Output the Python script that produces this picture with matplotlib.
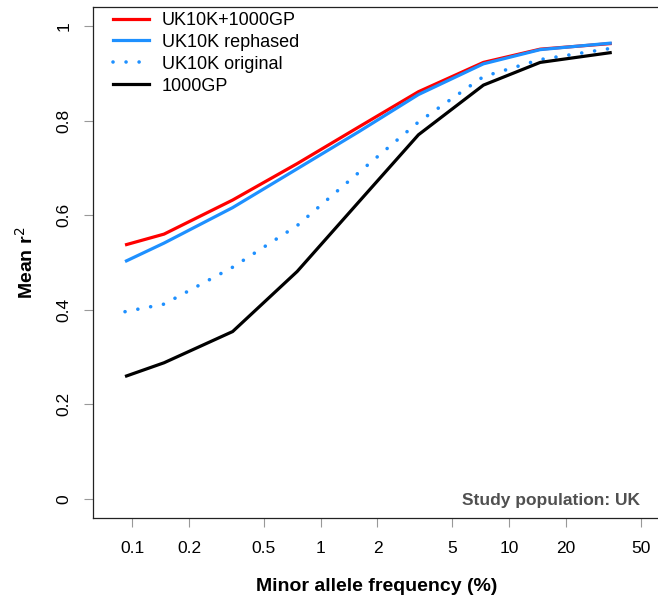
import matplotlib
matplotlib.use("Agg")
import matplotlib.pyplot as plt
from matplotlib.lines import Line2D

plt.rcParams['font.family'] = ['Liberation Sans', 'DejaVu Sans']

# Data
maf = [0.0916, 0.1475, 0.341, 0.75, 1.6, 3.3, 7.3, 14.6, 35]
uk10k_1000gp = [0.537, 0.560, 0.632, 0.709, 0.787, 0.861, 0.923, 0.951, 0.963]
uk10k_rephased = [0.502, 0.541, 0.616, 0.698, 0.777, 0.855, 0.920, 0.950, 0.964]
uk10k_original = [0.396, 0.412, 0.490, 0.578, 0.691, 0.797, 0.893, 0.929, 0.953]
gp1000 = [0.259, 0.288, 0.354, 0.481, 0.629, 0.770, 0.875, 0.923, 0.944]

series_labels = ["UK10K+1000GP", "UK10K rephased", "UK10K original", "1000GP"]
x_ticks = [0.1, 0.2, 0.5, 1, 2, 5, 10, 20, 50]
x_ticklabels = ["0.1", "0.2", "0.5", "1", "2", "5", "10", "20", "50"]
y_ticks = [0, 0.2, 0.4, 0.6, 0.8, 1]
y_ticklabels = ["0", "0.2", "0.4", "0.6", "0.8", "1"]

W, H = 658, 602
fig = plt.figure(figsize=(W / 100, H / 100), dpi=100)
left, right, top, bottom = 92.7, 660.0, 7.3, 518.3
ax = fig.add_axes([left / W, 1 - bottom / H, (right - left) / W, (bottom - top) / H])

red = "#FF0000"
blue = "#1E90FF"
lw = 2.3

ax.plot(maf, uk10k_1000gp, color=red, lw=lw, solid_capstyle='butt', solid_joinstyle='round')
ax.plot(maf, uk10k_rephased, color=blue, lw=lw, solid_capstyle='butt', solid_joinstyle='round')
ax.plot(maf, uk10k_original, color=blue, lw=2.6, linestyle=(0, (0.01, 3.6)),
        dash_capstyle='round')
ax.plot(maf, gp1000, color="black", lw=lw, solid_capstyle='butt', solid_joinstyle='round')

ax.set_xscale('log')
ax.set_xlim(0.06171, 63.1)
ax.set_ylim(-0.0408, 1.0395)
ax.set_xticks(x_ticks)
ax.set_xticklabels(x_ticklabels)
ax.xaxis.set_minor_locator(matplotlib.ticker.NullLocator())
ax.set_yticks(y_ticks)
ax.set_yticklabels(y_ticklabels, rotation=90, va='center')

ax.tick_params(axis='both', direction='out', length=6.5, width=0.8, color='#999999',
               labelsize=12.5, labelcolor='black')
ax.tick_params(axis='x', pad=10)
ax.tick_params(axis='y', pad=9)
for s in ax.spines.values():
    s.set_color('#222222')
    s.set_linewidth(0.9)

ax.set_xlabel("Minor allele frequency (%)", fontsize=14, fontweight='bold', labelpad=16)
ax.set_ylabel("Mean r$^2$", fontsize=14, fontweight='bold', labelpad=14)

ax.text(0.965, 0.035, "Study population: UK", transform=ax.transAxes, ha='right', va='center',
        fontsize=12.5, fontweight='bold', color='#505050')

handles = [
    Line2D([], [], color=red, lw=lw),
    Line2D([], [], color=blue, lw=lw),
    Line2D([], [], color=blue, lw=2.6, linestyle=(0, (0.01, 3.6)), dash_capstyle='round'),
    Line2D([], [], color="black", lw=lw),
]
leg = ax.legend(handles, series_labels, loc='upper left', bbox_to_anchor=(0.03, 0.998),
                frameon=False, fontsize=13, handlelength=1.95, handletextpad=0.75,
                labelspacing=0.27, borderaxespad=0.0, borderpad=0.2)

fig.savefig("out.png", dpi=100)
